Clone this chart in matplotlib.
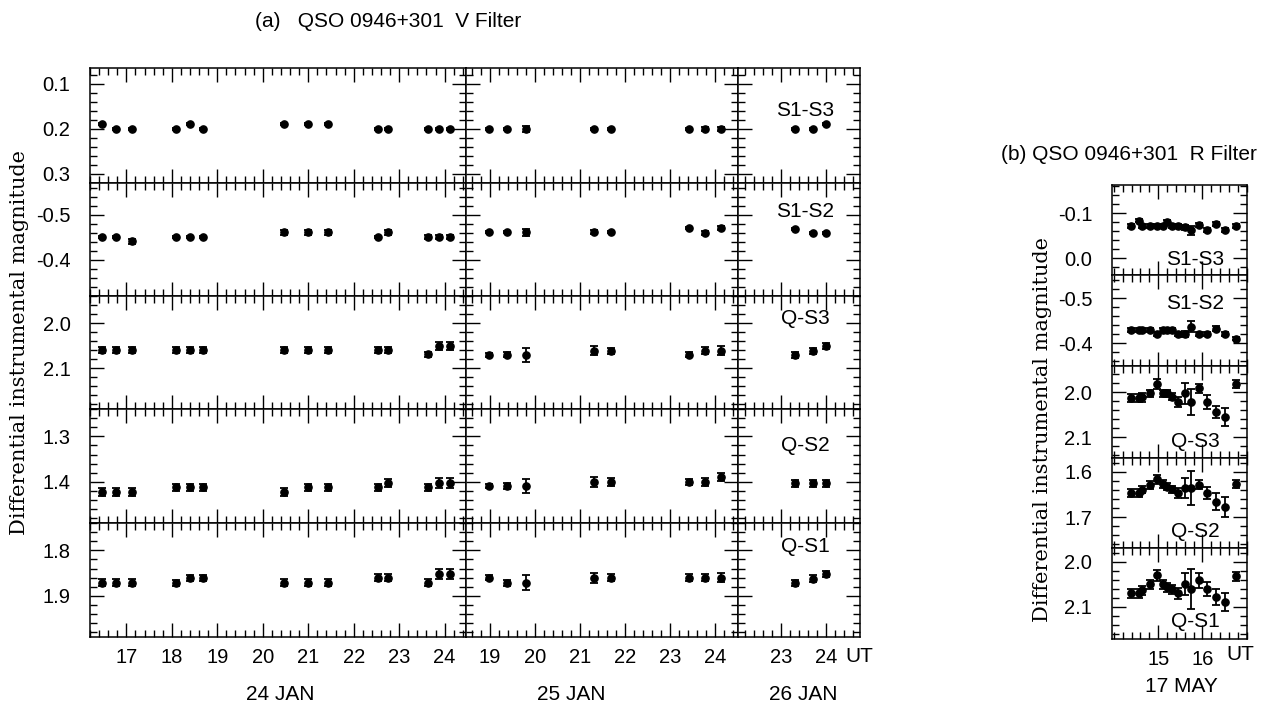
import matplotlib
matplotlib.use("Agg")
import matplotlib.pyplot as plt
from matplotlib.ticker import MultipleLocator, FixedLocator, FuncFormatter

plt.rcParams['font.family'] = ['Liberation Sans', 'DejaVu Sans']
plt.rcParams['axes.unicode_minus'] = False

# ---------------- data ----------------
pair_labels = ["S1-S3", "S1-S2", "Q-S3", "Q-S2", "Q-S1"]
night_labels = ["24 JAN", "25 JAN", "26 JAN"]

# 24 JAN (V filter)
jan24_ut = [16.46, 16.77, 17.12, 18.10, 18.40, 18.68, 20.47, 21.00, 21.43, 22.53, 22.76, 23.63, 23.87, 24.12]
jan24_s1s3 = [0.189, 0.200, 0.200, 0.200, 0.189, 0.200, 0.189, 0.189, 0.189, 0.200, 0.200, 0.200, 0.200, 0.200]
jan24_s1s3_err = [0.002] * 14
jan24_s1s2 = [-0.451, -0.451, -0.441, -0.451, -0.451, -0.451, -0.461, -0.461, -0.461, -0.451, -0.461, -0.451, -0.451, -0.451]
jan24_s1s2_err = [0.002, 0.002, 0.005, 0.002, 0.002, 0.002, 0.005, 0.005, 0.005, 0.002, 0.005, 0.005, 0.005, 0.005]
jan24_qs3 = [2.059, 2.059, 2.059, 2.059, 2.059, 2.059, 2.059, 2.059, 2.059, 2.059, 2.059, 2.069, 2.050, 2.050]
jan24_qs3_err = [0.007, 0.007, 0.007, 0.007, 0.007, 0.007, 0.007, 0.007, 0.007, 0.007, 0.007, 0.006, 0.009, 0.009]
jan24_qs2 = [1.422, 1.422, 1.422, 1.412, 1.412, 1.412, 1.422, 1.412, 1.412, 1.412, 1.402, 1.412, 1.402, 1.402]
jan24_qs2_err = [0.008, 0.008, 0.008, 0.007, 0.007, 0.007, 0.008, 0.008, 0.008, 0.008, 0.009, 0.008, 0.011, 0.011]
jan24_qs1 = [1.871, 1.871, 1.871, 1.871, 1.860, 1.860, 1.871, 1.871, 1.871, 1.860, 1.860, 1.871, 1.851, 1.851]
jan24_qs1_err = [0.008, 0.008, 0.008, 0.007, 0.007, 0.007, 0.008, 0.008, 0.008, 0.008, 0.008, 0.008, 0.011, 0.011]

# 25 JAN (V filter)
jan25_ut = [18.98, 19.37, 19.80, 21.30, 21.69, 23.41, 23.78, 24.13]
jan25_s1s3 = [0.200, 0.200, 0.200, 0.200, 0.200, 0.200, 0.200, 0.200]
jan25_s1s3_err = [0.002, 0.002, 0.006, 0.002, 0.002, 0.002, 0.005, 0.004]
jan25_s1s2 = [-0.461, -0.461, -0.461, -0.461, -0.461, -0.470, -0.459, -0.470]
jan25_s1s2_err = [0.002, 0.002, 0.008, 0.004, 0.002, 0.002, 0.005, 0.005]
jan25_qs3 = [2.070, 2.070, 2.070, 2.061, 2.061, 2.070, 2.061, 2.061]
jan25_qs3_err = [0.004, 0.006, 0.015, 0.010, 0.007, 0.006, 0.008, 0.010]
jan25_qs2 = [1.409, 1.409, 1.409, 1.400, 1.400, 1.400, 1.400, 1.389]
jan25_qs2_err = [0.005, 0.007, 0.015, 0.011, 0.008, 0.007, 0.009, 0.009]
jan25_qs1 = [1.860, 1.871, 1.871, 1.860, 1.860, 1.860, 1.860, 1.860]
jan25_qs1_err = [0.005, 0.007, 0.016, 0.011, 0.008, 0.008, 0.008, 0.010]

# 26 JAN (V filter)
jan26_ut = [23.30, 23.70, 24.00]
jan26_s1s3 = [0.200, 0.200, 0.190]
jan26_s1s3_err = [0.002, 0.002, 0.002]
jan26_s1s2 = [-0.469, -0.459, -0.459]
jan26_s1s2_err = [0.002, 0.002, 0.002]
jan26_qs3 = [2.070, 2.061, 2.050]
jan26_qs3_err = [0.007, 0.007, 0.007]
jan26_qs2 = [1.403, 1.403, 1.403]
jan26_qs2_err = [0.007, 0.007, 0.007]
jan26_qs1 = [1.872, 1.862, 1.852]
jan26_qs1_err = [0.007, 0.007, 0.007]

# 17 MAY (R filter)
may17_ut = [14.385, 14.565, 14.64, 14.81, 14.98, 15.10, 15.19, 15.32, 15.45, 15.60, 15.75, 15.92, 16.11, 16.31, 16.52, 16.75]
may17_s1s3 = [-0.072, -0.084, -0.072, -0.072, -0.072, -0.072, -0.081, -0.072, -0.072, -0.069, -0.063, -0.074, -0.063, -0.076, -0.063, -0.072]
may17_s1s3_err = [0.004, 0.004, 0.004, 0.004, 0.004, 0.004, 0.004, 0.004, 0.004, 0.005, 0.010, 0.005, 0.005, 0.004, 0.005, 0.004]
may17_s1s2 = [-0.430, -0.430, -0.430, -0.430, -0.421, -0.430, -0.430, -0.430, -0.421, -0.421, -0.437, -0.421, -0.421, -0.433, -0.421, -0.411]
may17_s1s2_err = [0.005, 0.005, 0.005, 0.005, 0.005, 0.005, 0.005, 0.005, 0.005, 0.006, 0.012, 0.005, 0.005, 0.005, 0.005, 0.004]
may17_qs3 = [2.013, 2.013, 2.012, 2.003, 1.982, 2.003, 2.003, 2.010, 2.022, 2.003, 2.022, 1.992, 2.022, 2.044, 2.055, 1.982]
may17_qs3_err = [0.009, 0.009, 0.009, 0.007, 0.011, 0.007, 0.007, 0.008, 0.012, 0.023, 0.029, 0.009, 0.015, 0.013, 0.020, 0.008]
may17_qs2 = [1.647, 1.647, 1.640, 1.629, 1.617, 1.627, 1.633, 1.639, 1.647, 1.636, 1.636, 1.629, 1.647, 1.666, 1.677, 1.627]
may17_qs2_err = [0.009, 0.009, 0.008, 0.008, 0.010, 0.008, 0.008, 0.008, 0.012, 0.022, 0.037, 0.010, 0.013, 0.018, 0.022, 0.008]
may17_qs1 = [2.070, 2.070, 2.063, 2.050, 2.030, 2.050, 2.057, 2.061, 2.070, 2.050, 2.061, 2.041, 2.061, 2.079, 2.089, 2.032]
may17_qs1_err = [0.010, 0.010, 0.010, 0.010, 0.012, 0.010, 0.010, 0.010, 0.012, 0.024, 0.044, 0.017, 0.015, 0.018, 0.020, 0.010]

# tables built from the lists above
nights_a = [
    (jan24_ut, [(jan24_s1s3, jan24_s1s3_err), (jan24_s1s2, jan24_s1s2_err), (jan24_qs3, jan24_qs3_err),
                (jan24_qs2, jan24_qs2_err), (jan24_qs1, jan24_qs1_err)]),
    (jan25_ut, [(jan25_s1s3, jan25_s1s3_err), (jan25_s1s2, jan25_s1s2_err), (jan25_qs3, jan25_qs3_err),
                (jan25_qs2, jan25_qs2_err), (jan25_qs1, jan25_qs1_err)]),
    (jan26_ut, [(jan26_s1s3, jan26_s1s3_err), (jan26_s1s2, jan26_s1s2_err), (jan26_qs3, jan26_qs3_err),
                (jan26_qs2, jan26_qs2_err), (jan26_qs1, jan26_qs1_err)]),
]
series_b = [(may17_s1s3, may17_s1s3_err), (may17_s1s2, may17_s1s2_err), (may17_qs3, may17_qs3_err),
            (may17_qs2, may17_qs2_err), (may17_qs1, may17_qs1_err)]

# ---------------- layout ----------------
W, H = 1261, 707
fig = plt.figure(figsize=(W / 100, H / 100), dpi=100)


def px_axes(x0, x1, ytop, ybot):
    return fig.add_axes([x0 / W, 1 - ybot / H, (x1 - x0) / W, (ybot - ytop) / H])


def fmt(v, pos):
    v = round(v, 3) + 0.0
    return f"{v:.1f}"


def style(ax, xmajor=None):
    ax.tick_params(which='both', direction='in', top=True, right=True,
                   width=1.0, labelsize=14.5, colors='black')
    ax.tick_params(which='major', length=10)
    ax.tick_params(which='minor', length=5)
    ax.tick_params(axis='y', pad=14)
    ax.tick_params(axis='x', pad=8)
    if xmajor is None:
        ax.xaxis.set_major_locator(MultipleLocator(1))
    else:
        ax.xaxis.set_major_locator(FixedLocator(xmajor))
    ax.xaxis.set_minor_locator(MultipleLocator(0.2))
    ax.yaxis.set_major_locator(MultipleLocator(0.1))
    ax.yaxis.set_minor_locator(MultipleLocator(0.02))
    ax.yaxis.set_major_formatter(FuncFormatter(fmt))
    for s in ax.spines.values():
        s.set_linewidth(1.1)


# panel (a)
row_px_a = [68, 183, 296, 409, 523, 637]
col_px_a = [90, 466, 737.7, 860]
xlims_a = [(16.2, 24.47), (18.47, 24.5), (22.03, 24.75)]
ylims_a = [(0.32, 0.065), (-0.32, -0.57), (2.19, 1.94), (1.49, 1.24), (1.99, 1.74)]
label_pos_a = [0.632, 0.746, 0.805, 0.684, 0.792]

for c, (ut, rows) in enumerate(nights_a):
    for r, (vals, errs) in enumerate(rows):
        ax = px_axes(col_px_a[c], col_px_a[c + 1], row_px_a[r], row_px_a[r + 1])
        ax.errorbar(ut, vals, yerr=errs, fmt='o', color='black', ms=5.2,
                    elinewidth=1.3, capsize=2.6, capthick=1.3)
        ax.set_xlim(*xlims_a[c])
        ax.set_ylim(*ylims_a[r])
        style(ax)
        if c > 0:
            ax.tick_params(axis='y', labelleft=False)
        if r < 4:
            ax.tick_params(axis='x', labelbottom=False)
        if c == 2:
            ax.text(0.55, label_pos_a[r], pair_labels[r], transform=ax.transAxes,
                    ha='center', va='center', fontsize=15)

# panel (b)
row_px_b = [185, 275, 366, 457.7, 548.3, 639]
xlim_b = (13.95, 17.0)
ylims_b = [(0.037, -0.163), (-0.35, -0.552), (2.146, 1.942), (1.769, 1.569), (2.172, 1.970)]
label_pos_b = [0.167, 0.692, 0.174, 0.183, 0.19]
for r, (vals, errs) in enumerate(series_b):
    ax = px_axes(1111.7, 1246.7, row_px_b[r], row_px_b[r + 1])
    ax.errorbar(may17_ut, vals, yerr=errs, fmt='o', color='black', ms=5.2,
                elinewidth=1.3, capsize=2.6, capthick=1.3)
    ax.set_xlim(*xlim_b)
    ax.set_ylim(*ylims_b[r])
    style(ax, xmajor=[15, 16])
    if r < 4:
        ax.tick_params(axis='x', labelbottom=False)
    ax.text(0.617, label_pos_b[r], pair_labels[r], transform=ax.transAxes,
            ha='center', va='center', fontsize=15)

# ---------------- texts ----------------
def ftext(x, y, s, **kw):
    fig.text(x / W, 1 - y / H, s, **kw)


ftext(388.5, 21.7, "(a)   QSO 0946+301  V Filter", ha='center', va='center', fontsize=15)
ftext(1129, 155, "(b) QSO 0946+301  R Filter", ha='center', va='center', fontsize=15)
ylab = "Differential instrumental magnitude"
ftext(20, 342.5, ylab, rotation=90, ha='center', va='center', fontsize=15, family='DejaVu Serif')
ftext(1042, 429, ylab, rotation=90, ha='center', va='center', fontsize=15, family='DejaVu Serif')
for xc, lab in zip([280, 571.7, 803], night_labels):
    ftext(xc, 695, lab, ha='center', va='center', fontsize=15)
ftext(859, 656, "UT", ha='center', va='center', fontsize=15)
ftext(1240, 655, "UT", ha='center', va='center', fontsize=15)
ftext(1181.7, 686.7, "17 MAY", ha='center', va='center', fontsize=15)

fig.savefig("out.png", dpi=100)
